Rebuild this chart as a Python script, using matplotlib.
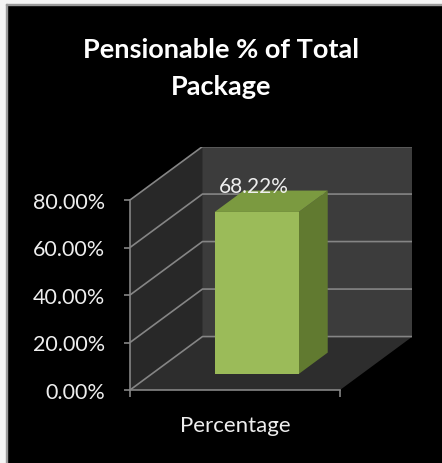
import matplotlib
matplotlib.use("Agg")
import matplotlib.pyplot as plt
from matplotlib.patches import Rectangle

# chart data
categories = ["Percentage"]
values = [0.6822]
value_labels = ["68.22%"]
y_ticks = [0.0, 0.2, 0.4, 0.6, 0.8]
y_tick_labels = ["0.00%", "20.00%", "40.00%", "60.00%", "80.00%"]
title_lines = ["Pensionable % of Total", "Package"]

plt.rcParams['font.family'] = ['Lato', 'DejaVu Sans']

W, H = 442, 464
fig = plt.figure(figsize=(W / 100, H / 100), dpi=100, facecolor='black')

# oblique depth offset in data units (x per category, y in fraction)
DX, DY = 0.345, 0.225
YMAX = y_ticks[-1]
px_per_x = 210.0
px_per_y = 190.0 / YMAX

ax = fig.add_axes([130 / W, 73 / H,
                   (len(categories) + DX) * px_per_x / W,
                   (YMAX + DY) * px_per_y / H])
ax.set_facecolor('none')
ax.set_xlim(0, len(categories) + DX)
ax.set_ylim(0, YMAX + DY)


def proj(x, y, z):
    return (x + z * DX, y + z * DY)


def face(points, color, z):
    xs, ys = zip(*[proj(*p) for p in points])
    ax.fill(xs, ys, color=color, lw=0, zorder=z)


n = len(categories)
# walls and floor
face([(0, 0, 1), (n, 0, 1), (n, YMAX, 1), (0, YMAX, 1)], '#3c3c3c', 1)
face([(0, 0, 0), (0, 0, 1), (0, YMAX, 1), (0, YMAX, 0)], '#282828', 1)
face([(0, 0, 0), (n, 0, 0), (n, 0, 1), (0, 0, 1)], '#2d2d2d', 1)

# gridlines across the side wall and back wall
grid_color = '#858585'
for t in y_ticks:
    pts = [proj(0, t, 0), proj(0, t, 1), proj(n, t, 1)]
    xs, ys = zip(*pts)
    ax.plot(xs, ys, color=grid_color, lw=1.2, zorder=2, solid_capstyle='butt')

# 3-D bars
bar_w, z0, z1 = 0.4, 0.3, 0.7
for i, (v, lab) in enumerate(zip(values, value_labels)):
    x0 = i + 0.5 - bar_w / 2
    x1 = i + 0.5 + bar_w / 2
    face([(x1, 0, z0), (x1, 0, z1), (x1, v, z1), (x1, v, z0)], '#617A30', 3)
    face([(x0, v, z0), (x1, v, z0), (x1, v, z1), (x0, v, z1)], '#7B9A40', 3)
    face([(x0, 0, z0), (x1, 0, z0), (x1, v, z0), (x0, v, z0)], '#9BBB59', 4)
    lx = proj(i + 0.5, v, z0)[0]
    ly = proj(i + 0.5, v, z1)[1]
    ax.annotate(lab, xy=(lx, ly), xytext=(-2, -1), textcoords='offset points',
                ha='center', va='baseline', color='#eeeeee', fontsize=15,
                zorder=5)

# axes
for s in ('top', 'right'):
    ax.spines[s].set_visible(False)
for s in ('left', 'bottom'):
    ax.spines[s].set_color(grid_color)
    ax.spines[s].set_linewidth(1.2)
ax.spines['left'].set_bounds(0, YMAX)
ax.spines['bottom'].set_bounds(0, n)

ax.set_yticks(y_ticks)
ax.set_yticklabels(y_tick_labels)
ax.tick_params(axis='y', colors=grid_color, labelcolor='#eeeeee',
               length=4, width=1.2, pad=14, labelsize=15.5)

ax.set_xticks([i for i in range(n + 1)])
ax.set_xticklabels([])
ax.tick_params(axis='x', which='major', colors=grid_color, length=5, width=1.2)
ax.set_xticks([i + 0.5 for i in range(n)], minor=True)
ax.set_xticklabels(categories, minor=True)
ax.tick_params(axis='x', which='minor', length=0, pad=18,
               labelcolor='#eeeeee', labelsize=16)

for line, base in zip(title_lines, (58, 95)):
    fig.text(221 / W, 1 - base / H, line, ha='center', va='baseline',
             color='white', fontsize=19.5, fontweight='bold')

# light frame along the top and left edges
fig.patches.append(Rectangle((0, 0), 6 / W, 1, transform=fig.transFigure,
                             color='#f4f4f4', zorder=10))
fig.patches.append(Rectangle((0, 1 - 5 / H), 1, 5 / H, transform=fig.transFigure,
                             color='#f4f4f4', zorder=10))
fig.patches.append(Rectangle((6 / W, 0), 1 / W, 1 - 5 / H, transform=fig.transFigure,
                             color='#9a9a9a', zorder=10))
fig.patches.append(Rectangle((6 / W, 1 - 6 / H), 1 - 6 / W, 1 / H,
                             transform=fig.transFigure, color='#9a9a9a', zorder=10))

fig.savefig('out.png', dpi=100, facecolor='black')
